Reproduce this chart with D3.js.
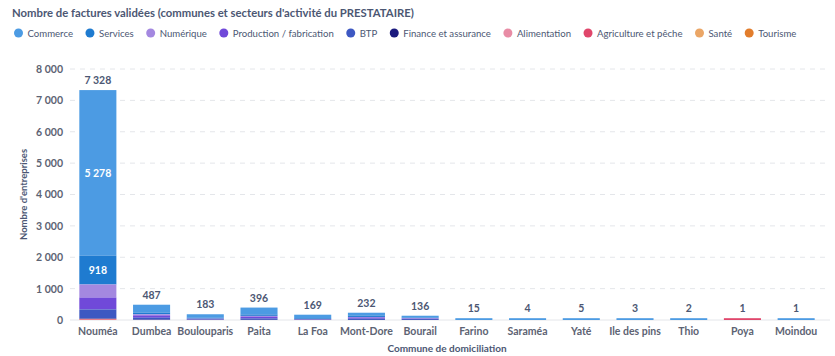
<!DOCTYPE html>
<html><head><meta charset="utf-8">
<script src="https://cdn.jsdelivr.net/npm/d3@7"></script>
<style>
body{margin:0;background:#fff;font-family:Lato,"Noto Sans",sans-serif;}
</style></head>
<body><svg id="c" width="835" height="356"></svg>
<script>
const communes = ["Nouméa","Dumbea","Boulouparis","Paita","La Foa","Mont-Dore","Bourail","Farino","Saraméa","Yaté","Ile des pins","Thio","Poya","Moindou"];
const secteurs = ["Commerce","Services","Numérique","Production / fabrication","BTP","Finance et assurance","Alimentation","Agriculture et pêche","Santé","Tourisme"];
const commerce    = [5278,250,110,220,110,90,60,10,3,4,3,2,0,1];
const services    = [918,55,30,45,25,45,20,3,1,0,0,0,0,0];
const numerique   = [415,35,8,25,5,15,10,0,0,0,0,0,0,0];
const production  = [380,75,15,55,12,40,15,0,0,0,0,0,0,0];
const btp         = [290,65,18,48,15,40,30,2,0,1,0,0,0,0];
const finance     = [12,3,0,1,0,2,0,0,0,0,0,0,0,0];
const alimentation= [10,2,0,1,0,0,0,0,0,0,0,0,0,0];
const agriculture = [20,2,2,1,2,0,1,0,0,0,0,0,1,0];
const sante       = [3,0,0,0,0,0,0,0,0,0,0,0,0,0];
const tourisme    = [2,0,0,0,0,0,0,0,0,0,0,0,0,0];
const yTicks = [0,1000,2000,3000,4000,5000,6000,7000,8000];
const colors = ["#4c9be3","#1f7bd0","#a488e0","#7049d9","#3d58c2","#1b1a7e","#e88ca5","#e0466b","#eba666","#e27d2c"];

const series = [commerce,services,numerique,production,btp,finance,alimentation,agriculture,sante,tourisme];
const rows = communes.map((c,i)=>{const r={commune:c}; secteurs.forEach((s,j)=>r[s]=series[j][i]); return r;});
const totals = communes.map((c,i)=>d3.sum(series,s=>s[i]));
const dominant = communes.map((c,i)=>d3.maxIndex(series,s=>s[i]));
const stacked = d3.stack().keys(secteurs).order(d3.stackOrderReverse)(rows);

const svg = d3.select("#c");
const fmt = v => d3.format(",")(v).replace(/,/g," ");
const textCol = "#4c5773";

// title
svg.append("text").attr("x",12).attr("y",17).attr("font-size",11.3).attr("font-weight",700)
  .attr("fill",textCol).text("Nombre de factures validées (communes et secteurs d'activité du PRESTATAIRE)");

// legend
let lx = 14;
const lg = svg.append("g");
secteurs.forEach((s,i)=>{
  const g = lg.append("g").attr("transform",`translate(${lx},33)`);
  g.append("circle").attr("cx",4.5).attr("cy",0).attr("r",4.5).attr("fill",colors[i]);
  const t = g.append("text").attr("x",13.5).attr("y",3.6).attr("font-size",9.6).attr("fill",textCol).text(s);
  lx += 13.5 + t.node().getComputedTextLength() + 12.5;
});

const x = d3.scaleBand().domain(communes).range([71,823]).paddingInner(0.31).paddingOuter(0.155);
const y = d3.scaleLinear().domain([0,8000]).range([320,69]);

// grid
svg.append("g").selectAll("line").data(yTicks.slice(1)).join("line")
  .attr("x1",70).attr("x2",830).attr("y1",d=>y(d)).attr("y2",d=>y(d))
  .attr("stroke","#e4e6ea").attr("stroke-dasharray","5,5");
svg.append("line").attr("x1",70).attr("x2",830).attr("y1",y(0)).attr("y2",y(0)).attr("stroke","#e4e6ea");

// y axis
const ya = svg.append("g").attr("transform","translate(63,0)")
  .call(d3.axisLeft(y).tickValues(yTicks).tickSize(0).tickFormat(fmt));
ya.select(".domain").remove();
ya.selectAll("text").attr("font-family","Lato").attr("font-size",10.5).attr("font-weight",700).attr("fill","#5d6373").attr("x",0);

// x axis
const xa = svg.append("g").attr("transform",`translate(0,${y(0)})`)
  .call(d3.axisBottom(x).tickSize(0));
xa.select(".domain").remove();
xa.selectAll("text").attr("font-family","Lato").attr("font-size",10.5).attr("font-weight",700).attr("fill","#5d6373").attr("dy","1.1em");

// axis titles
svg.append("text").attr("transform",`translate(27,${(y(0)+y(8000))/2}) rotate(-90)`).attr("text-anchor","middle")
  .attr("font-size",9.5).attr("font-weight",700).attr("fill",textCol).text("Nombre d'entreprises");
svg.append("text").attr("x",(x.range()[0]+x.range()[1])/2).attr("y",352).attr("text-anchor","middle")
  .attr("font-size",10).attr("font-weight",700).attr("fill",textCol).text("Commune de domiciliation");

// bars
const minH = 1.8;
stacked.forEach(layer=>{
  const j = secteurs.indexOf(layer.key);
  svg.append("g").selectAll("rect").data(layer).join("rect")
    .attr("x",d=>x(d.data.commune)).attr("width",x.bandwidth())
    .attr("y",(d,i)=> totals[i]<20 ? y(0)-minH : y(d[1]))
    .attr("height",(d,i)=>{const v=d[1]-d[0]; if(v<=0) return 0;
        if(totals[i]<20) return dominant[i]===j ? minH : 0;
        return y(d[0])-y(d[1]);})
    .attr("fill",colors[j]);
});

// inner labels for large segments
stacked.filter(l=>l.key==="Commerce"||l.key==="Services").forEach(layer=>{
  svg.append("g").selectAll("text").data(layer.filter(d=>y(d[0])-y(d[1])>20)).join("text")
    .attr("x",d=>x(d.data.commune)+x.bandwidth()/2).attr("y",d=>(y(d[0])+y(d[1]))/2+4)
    .attr("text-anchor","middle").attr("font-size",10.5).attr("font-weight",700).attr("fill","#fff")
    .text(d=>fmt(d[1]-d[0]));
});

// totals
svg.append("g").selectAll("text").data(communes).join("text")
  .attr("x",d=>x(d)+x.bandwidth()/2).attr("y",(d,i)=>Math.min(y(totals[i]),y(0)-minH)-6)
  .attr("text-anchor","middle").attr("font-size",10.5).attr("font-weight",700).attr("fill","#4c5773")
  .text((d,i)=>fmt(totals[i]));
</script></body></html>
